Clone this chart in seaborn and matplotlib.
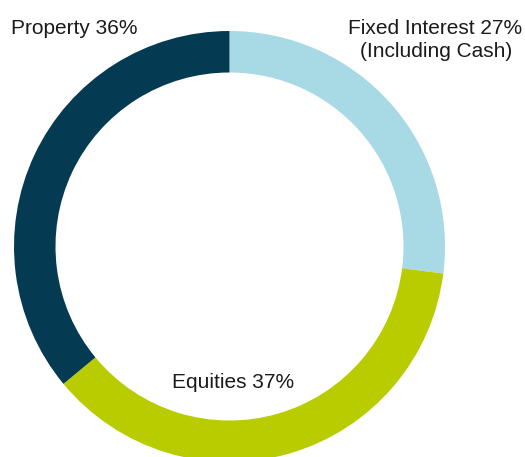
import matplotlib
matplotlib.use("Agg")
import matplotlib.pyplot as plt
import seaborn as sns

# asset allocation (clockwise from 12 o'clock)
categories = ["Fixed Interest", "Equities", "Property"]
shares = [27, 37, 36]
colours = ["#a8dae5", "#b8cc00", "#043a52"]

sns.set_style("white")
plt.rcParams["font.family"] = ["Liberation Sans", "DejaVu Sans"]

fig = plt.figure(figsize=(5.25, 4.57), dpi=100)
ax = fig.add_axes([0, 0, 1, 1])

ax.pie(shares, colors=sns.color_palette(colours), startangle=90, counterclock=False,
       radius=215.5, center=(229.5, 210.5),
       wedgeprops=dict(width=41.5, linewidth=0))

ax.set_xlim(0, 525)
ax.set_ylim(0, 457)
ax.set_aspect("equal")
ax.axis("off")

txt = dict(fontsize=15, color="#1a1a1a", va="baseline")
ax.text(11, 422.7, f"{categories[2]} {shares[2]}%", ha="left", **txt)
ax.text(435.5, 422.7, f"{categories[0]} {shares[0]}%", ha="center", **txt)
ax.text(436, 400.3, "(Including Cash)", ha="center", **txt)
ax.text(233.4, 68.7, f"{categories[1]} {shares[1]}%", ha="center", **txt)

fig.savefig("out.png", dpi=100)
